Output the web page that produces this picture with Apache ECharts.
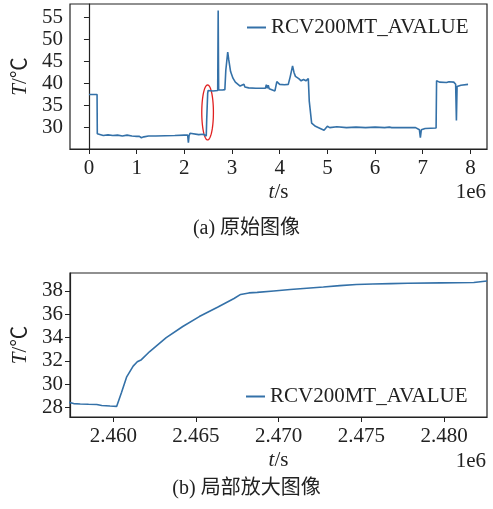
<!DOCTYPE html>
<html><head><meta charset="utf-8">
<script src="https://cdn.jsdelivr.net/npm/echarts@6/dist/echarts.min.js"></script>
<style>html,body{margin:0;padding:0;background:#fff}#c{width:493px;height:509px}</style>
</head><body><div id="c"></div>
<script>
// ---- Data (x in units of 1e6 s, temperature in ℃) ----
const topT = [0, 0.17, 0.175, 0.19, 0.3, 0.4, 0.5, 0.6, 0.7, 0.8, 0.9, 1.0, 1.05, 1.1, 1.15, 1.25, 1.4, 1.6, 1.8, 2.0, 2.07, 2.085, 2.1, 2.12, 2.14, 2.3, 2.4, 2.44, 2.46, 2.47, 2.49, 2.5, 2.6, 2.7, 2.71, 2.72, 2.8, 2.85, 2.87, 2.91, 2.93, 2.97, 3.02, 3.07, 3.17, 3.25, 3.27, 3.35, 3.5, 3.7, 3.72, 3.74, 3.76, 3.78, 3.9, 3.93, 3.94, 4.0, 4.1, 4.18, 4.22, 4.27, 4.3, 4.33, 4.4, 4.45, 4.5, 4.55, 4.6, 4.62, 4.67, 4.75, 4.85, 4.93, 5.0, 5.05, 5.2, 5.4, 5.6, 5.8, 6.0, 6.2, 6.3, 6.32, 6.35, 6.6, 6.85, 6.93, 6.95, 6.97, 7.05, 7.28, 7.29, 7.35, 7.5, 7.55, 7.65, 7.69, 7.706, 7.72, 7.8, 7.95];
const topTemp = [37.5, 37.5, 28.6, 28.3, 28.2, 28.35, 28.2, 28.3, 28.1, 28.3, 28.1, 28.0, 28.05, 27.7, 27.9, 28.1, 28.1, 28.15, 28.2, 28.3, 28.3, 26.6, 28.2, 28.7, 28.3, 28.4, 28.5, 28.3, 28.1, 32.0, 37.8, 38.4, 38.3, 38.4, 56.5, 38.5, 38.5, 38.6, 43.0, 47.1, 45.5, 42.7, 41.2, 40.3, 39.4, 39.8, 39.2, 39.0, 38.9, 38.9, 39.7, 38.9, 39.6, 38.8, 38.3, 38.2, 40.4, 39.8, 39.7, 39.8, 41.5, 44.0, 42.5, 41.6, 41.1, 40.6, 40.9, 40.6, 41.1, 36.0, 31.0, 30.3, 29.8, 29.4, 30.3, 30.0, 30.2, 30.0, 30.1, 30.0, 30.1, 30.0, 30.1, 29.7, 30.0, 30.0, 30.0, 29.5, 27.7, 29.5, 29.8, 29.9, 40.6, 40.3, 40.2, 40.4, 40.3, 39.8, 31.6, 39.3, 39.6, 39.8];

const zoomT = [2.4573, 2.4576, 2.4580, 2.4585, 2.4590, 2.4593, 2.4598, 2.4602, 2.4605, 2.4608, 2.4612, 2.46145, 2.4617, 2.4622, 2.4632, 2.4642, 2.4652, 2.4663, 2.4673, 2.4677, 2.4682, 2.4687, 2.4697, 2.4707, 2.4717, 2.4727, 2.4737, 2.4747, 2.4757, 2.4768, 2.4778, 2.4798, 2.4818, 2.4826];
const zoomTemp = [28.45, 28.33, 28.30, 28.27, 28.25, 28.17, 28.12, 28.09, 29.3, 30.6, 31.55, 31.92, 32.1, 32.8, 34.0, 34.95, 35.8, 36.6, 37.35, 37.7, 37.83, 37.88, 38.0, 38.12, 38.23, 38.34, 38.46, 38.55, 38.6, 38.63, 38.66, 38.69, 38.72, 38.85];

const topXTicks = [0, 1, 2, 3, 4, 5, 6, 7, 8];
const topYTicks = [30, 35, 40, 45, 50, 55];
const zoomXTicks = [2.460, 2.465, 2.470, 2.475, 2.480];
const zoomYTicks = [28, 30, 32, 34, 36, 38];

const seriesName = 'RCV200MT_AVALUE';
const highlight = {t: 2.488, temp: 33.44, rt: 0.122, rtemp: 6.23}; // red ellipse annotation

// ---- Chart ----
const FONT = '"Liberation Serif", "Noto Sans CJK SC", serif';
const FS = 21;
const INK = '#222';
const LINE = '#3471a8';

function xAxisCfg(gi, min, max, ticks, fmt) {
  return {
    type: 'value', gridIndex: gi, min: min, max: max,
    name: '{i|t}/s', nameLocation: 'middle', nameGap: 33,
    nameTextStyle: {fontFamily: FONT, fontSize: FS, color: INK,
      rich: {i: {fontFamily: FONT, fontSize: FS, fontStyle: 'italic', color: INK}}},
    splitLine: {show: false},
    axisLine: {show: true, lineStyle: {color: INK, width: 1.2}},
    axisTick: {show: true, length: 5, inside: false, customValues: ticks, lineStyle: {color: INK, width: 1}},
    axisLabel: {customValues: ticks, formatter: fmt, fontFamily: FONT, fontSize: FS, color: INK, margin: 9}
  };
}
function yAxisCfg(gi, min, max, ticks) {
  return {
    type: 'value', gridIndex: gi, min: min, max: max,
    name: '{i|T}/℃', nameLocation: 'middle', nameGap: 34, nameRotate: 90,
    nameTextStyle: {fontFamily: FONT, fontSize: FS, color: INK,
      rich: {i: {fontFamily: FONT, fontSize: FS, fontStyle: 'italic', color: INK}}},
    splitLine: {show: false},
    axisLine: {show: true, lineStyle: {color: INK, width: 1.2}},
    axisTick: {show: true, length: 5, customValues: ticks, lineStyle: {color: INK, width: 1}},
    axisLabel: {customValues: ticks, fontFamily: FONT, fontSize: FS, color: INK, margin: 7}
  };
}

const chart = echarts.init(document.getElementById('c'), null, {renderer: 'canvas'});
const legendCommon = {
  data: [seriesName], icon: 'rect', itemWidth: 19, itemHeight: 2, itemGap: 8,
  textStyle: {fontFamily: FONT, fontSize: FS, color: INK}, padding: 0
};
chart.setOption({
  animation: false,
  backgroundColor: '#fff',
  grid: [
    {left: 70, top: 4, width: 417, height: 145, show: true, borderColor: INK, borderWidth: 1.2, containLabel: false},
    {left: 70, top: 273, width: 417, height: 144, show: true, borderColor: INK, borderWidth: 1.2, containLabel: false}
  ],
  xAxis: [
    xAxisCfg(0, -0.3975, 8.3475, topXTicks, v => String(Math.round(v))),
    xAxisCfg(1, 2.45738, 2.4826, zoomXTicks, v => v.toFixed(3))
  ],
  yAxis: [
    yAxisCfg(0, 25.15, 58.0, topYTicks),
    yAxisCfg(1, 27.18, 39.54, zoomYTicks)
  ],
  legend: [
    Object.assign({left: 247, top: 17}, legendCommon),
    Object.assign({left: 246, top: 386}, legendCommon)
  ],
  series: [
    {name: seriesName, type: 'line', xAxisIndex: 0, yAxisIndex: 0, symbol: 'none',
     lineStyle: {color: LINE, width: 1.6}, itemStyle: {color: LINE},
     data: topT.map((t, i) => [t, topTemp[i]])},
    {name: seriesName, type: 'line', xAxisIndex: 1, yAxisIndex: 1, symbol: 'none',
     lineStyle: {color: LINE, width: 1.6}, itemStyle: {color: LINE},
     data: zoomT.map((t, i) => [t, zoomTemp[i]])},
    {type: 'custom', xAxisIndex: 0, yAxisIndex: 0, silent: true,
     data: [[highlight.t, highlight.temp, highlight.rt, highlight.rtemp]],
     renderItem: function (params, api) {
       const c = api.coord([api.value(0), api.value(1)]);
       const s = api.size([api.value(2), api.value(3)]);
       const pts = [];
       for (let k = 0; k <= 72; k++) {
         const a = k / 72 * Math.PI * 2;
         pts.push([c[0] + s[0] * Math.cos(a), c[1] + s[1] * Math.sin(a)]);
       }
       return {type: 'polyline', shape: {points: pts}, style: {stroke: '#e02020', lineWidth: 1.3, fill: null}};
     }}
  ],
  graphic: [
    {type: 'text', right: 7, top: 182, style: {text: '1e6', font: FS + 'px ' + FONT, fill: INK}},
    {type: 'text', right: 7, top: 451, style: {text: '1e6', font: FS + 'px ' + FONT, fill: INK}},
    {type: 'text', left: 'center', top: 219, style: {text: '(a) 原始图像', font: '20px ' + FONT, fill: INK}},
    {type: 'text', left: 'center', top: 479, style: {text: '(b) 局部放大图像', font: '20px ' + FONT, fill: INK}}
  ]
});
</script></body></html>
